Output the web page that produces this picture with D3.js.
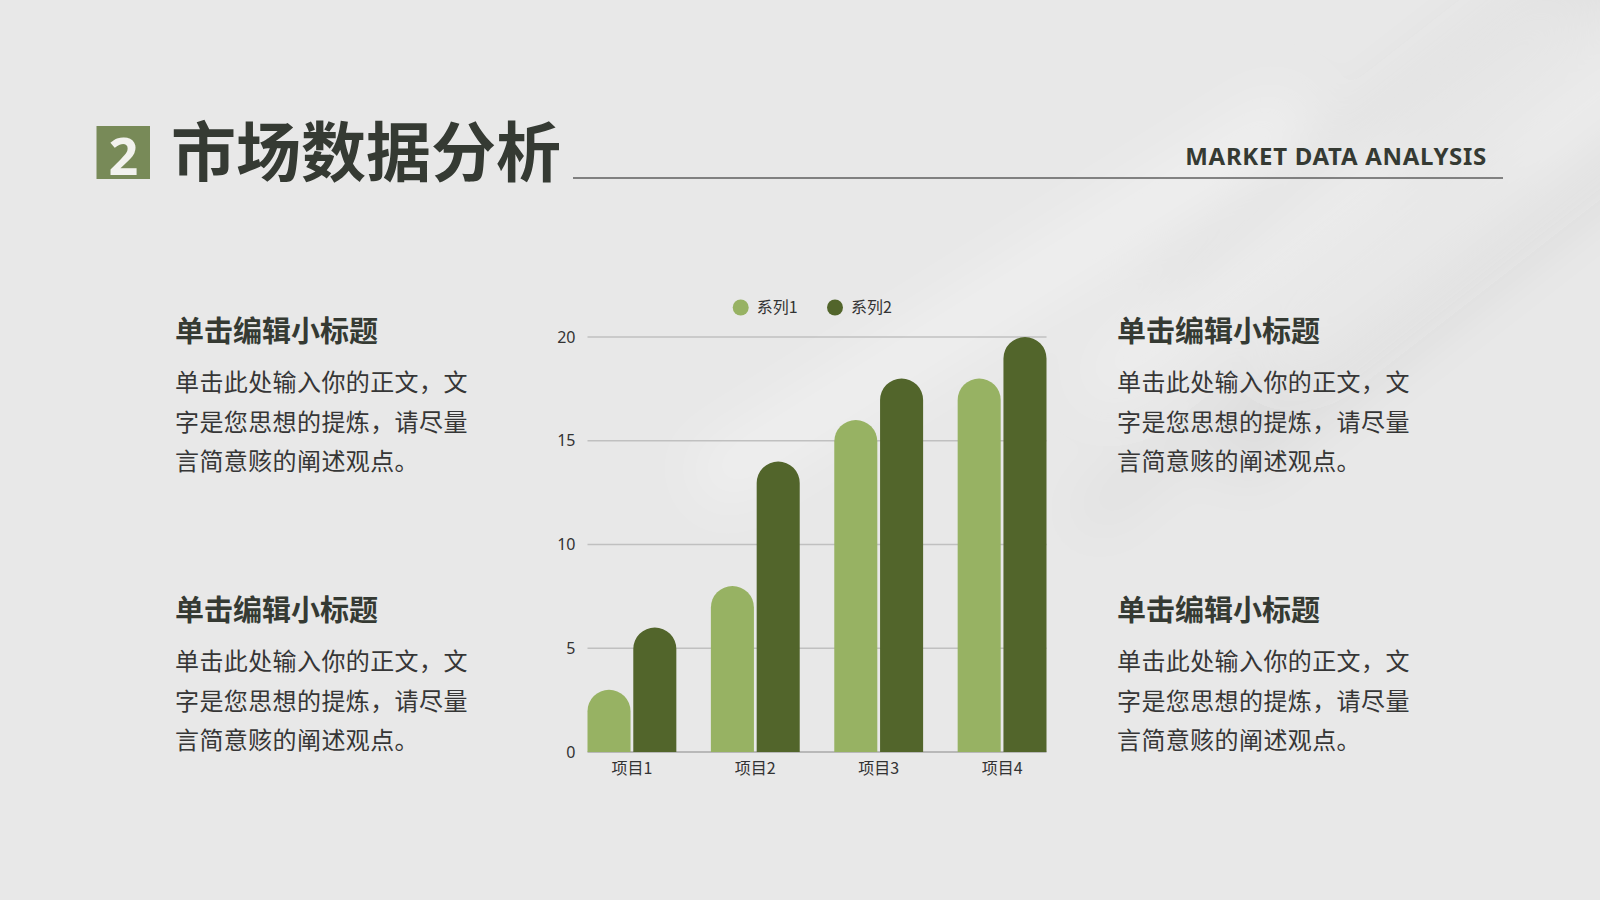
<!DOCTYPE html>
<html lang="zh">
<head>
<meta charset="utf-8">
<script src="https://d3js.org/d3.v7.min.js"></script>
<style>
  html, body { margin: 0; padding: 0; background: #e9e9e9; }
  svg { display: block; }
</style>
</head>
<body>
<svg id="slide" width="1600" height="900"></svg>
<script>
// ---- data ----
const categories = ["项目1", "项目2", "项目3", "项目4"];
const seriesNames = ["系列1", "系列2"];
const series1 = [3, 8, 16, 18];
const series2 = [6, 14, 18, 20];
const yTicks = [0, 5, 10, 15, 20];

const titleText = "市场数据分析";
const titleNum = "2";
const subTitleEn = "MARKET DATA ANALYSIS";
const blockHeading = "单击编辑小标题";
const blockLines = ["单击此处输入你的正文，文", "字是您思想的提炼，请尽量", "言简意赅的阐述观点。"];

const colors = ["#97b263", "#52652b"];
const ink = "#353a33";

const svg = d3.select("#slide");
const W = 1600, H = 900;

// ---- background with soft shadow streaks ----
const defs = svg.append("defs");
defs.append("filter").attr("id", "blur").attr("x", "-50%").attr("y", "-50%")
    .attr("width", "200%").attr("height", "200%")
  .append("feGaussianBlur").attr("stdDeviation", 26);

svg.append("rect").attr("width", W).attr("height", H).attr("fill", "#e8e8e8");
const streaks = svg.append("g").attr("filter", "url(#blur)");
// darker bands top-right
[[1380, 120, 560, 40, -38, 0.06], [1470, 270, 620, 50, -38, 0.055],
 [1300, 340, 560, 30, -40, 0.04], [1520, 60, 320, 30, -40, 0.06]].forEach(s => {
  streaks.append("rect")
    .attr("x", -s[2] / 2).attr("y", -s[3] / 2)
    .attr("width", s[2]).attr("height", s[3])
    .attr("fill", "#000").attr("opacity", s[5])
    .attr("transform", `translate(${s[0]},${s[1]}) rotate(${s[4]})`);
});
// lighter bands
[[1330, 200, 600, 40, -38], [1480, 200, 500, 30, -38], [1000, 300, 700, 60, -32]].forEach(s => {
  streaks.append("rect")
    .attr("x", -s[2] / 2).attr("y", -s[3] / 2)
    .attr("width", s[2]).attr("height", s[3])
    .attr("fill", "#fff").attr("opacity", 0.3)
    .attr("transform", `translate(${s[0]},${s[1]}) rotate(${s[4]})`);
});

// ---- header ----
svg.append("rect").attr("x", 96.5).attr("y", 126).attr("width", 53.5).attr("height", 53)
  .attr("fill", "#788a58");
svg.append("text").attr("x", 123.3).attr("y", 174.5).attr("text-anchor", "middle")
  .attr("font-family", "'Noto Sans', 'Open Sans', sans-serif").attr("font-weight", 700)
  .attr("font-size", 52).attr("fill", "#f2f2ee").text(titleNum);
svg.append("text").attr("x", 171).attr("y", 176)
  .attr("font-family", "'Noto Sans CJK SC', sans-serif").attr("font-weight", 700)
  .attr("font-size", 65).attr("fill", ink).text(titleText);
svg.append("line").attr("x1", 573).attr("x2", 1503).attr("y1", 178).attr("y2", 178)
  .attr("stroke", "#5e5e5e").attr("stroke-width", 1.5);
svg.append("text").attr("x", 1487).attr("y", 164.5).attr("text-anchor", "end")
  .attr("font-family", "'Noto Sans', 'Open Sans', sans-serif").attr("font-weight", 700)
  .attr("font-size", 24).attr("letter-spacing", 0.7).attr("fill", ink).text(subTitleEn);

// ---- text blocks ----
const blockPos = [[175, 0], [175, 279], [1117, 0], [1117, 279]];
blockPos.forEach(([bx, dy]) => {
  const g = svg.append("g").attr("transform", `translate(${bx},${dy})`)
    .attr("font-family", "'Noto Sans CJK SC', sans-serif").attr("fill", "#363636");
  g.append("text").attr("y", 341.5).attr("font-size", 29).attr("font-weight", 700)
    .attr("fill", ink).text(blockHeading);
  g.selectAll("text.body").data(blockLines).join("text")
    .attr("class", "body")
    .attr("y", (d, i) => 391 + i * 39.5)
    .attr("font-size", 24).attr("letter-spacing", 0.4)
    .text(d => d);
});

// ---- chart ----
const x0 = 587.5, x1 = 1046.5;
const y = d3.scaleLinear().domain([0, 20]).range([752, 337]);
const x = d3.scaleBand().domain(categories).range([x0, x1]).paddingInner(0.28).paddingOuter(0);
const xs = d3.scaleBand().domain(seriesNames).range([0, x.bandwidth()]).paddingInner(0.06);

const chart = svg.append("g").attr("font-family", "'Noto Sans CJK SC', 'Noto Sans', sans-serif");

// grid lines
chart.append("g").selectAll("line").data(yTicks).join("line")
  .attr("x1", x0).attr("x2", x1)
  .attr("y1", d => y(d)).attr("y2", d => y(d))
  .attr("stroke", d => d === 0 ? "#a8a8a8" : "#c0c0c0").attr("stroke-width", 1.5);

// y axis labels
const yAxis = d3.axisLeft(y).tickValues(yTicks).tickSize(0).tickPadding(0);
chart.append("g").attr("transform", `translate(${x0 - 12},0)`).call(yAxis)
  .call(g => g.select(".domain").remove())
  .call(g => g.selectAll("text").attr("font-size", 16).attr("fill", "#333")
    .attr("font-family", "'Noto Sans', sans-serif"));

// x axis labels
const xAxis = d3.axisBottom(x).tickSize(0).tickPadding(0);
chart.append("g").attr("transform", `translate(0,${y(0) + 11})`).call(xAxis)
  .call(g => g.select(".domain").remove())
  .call(g => g.selectAll("text").attr("font-size", 16).attr("fill", "#333")
    .attr("font-family", "'Noto Sans CJK SC', sans-serif"));

// rounded-top bars
function capBar(bx, by, w, base) {
  const r = w / 2;
  const top = by + r;
  return `M${bx},${base}V${Math.min(top, base)}A${r},${r} 0 0 1 ${bx + w},${Math.min(top, base)}V${base}Z`;
}
const rows = categories.map((c, i) => ({ cat: c, vals: [series1[i], series2[i]] }));
const groups = chart.append("g").selectAll("g").data(rows).join("g")
  .attr("transform", d => `translate(${x(d.cat)},0)`);
groups.selectAll("path").data(d => d.vals.map((v, j) => ({ v, s: seriesNames[j], j }))).join("path")
  .attr("d", d => capBar(xs(d.s), y(d.v), xs.bandwidth(), y(0)))
  .attr("fill", d => colors[d.j]);

// legend
const legendX = [740.7, 835];
const legend = chart.append("g").selectAll("g").data(seriesNames).join("g")
  .attr("transform", (d, i) => `translate(${legendX[i]},307.5)`);
legend.append("circle").attr("r", 8).attr("fill", (d, i) => colors[i]);
legend.append("text").attr("x", 16).attr("y", 5.5).attr("font-size", 16).attr("fill", "#333")
  .text(d => d);
</script>
</body>
</html>
